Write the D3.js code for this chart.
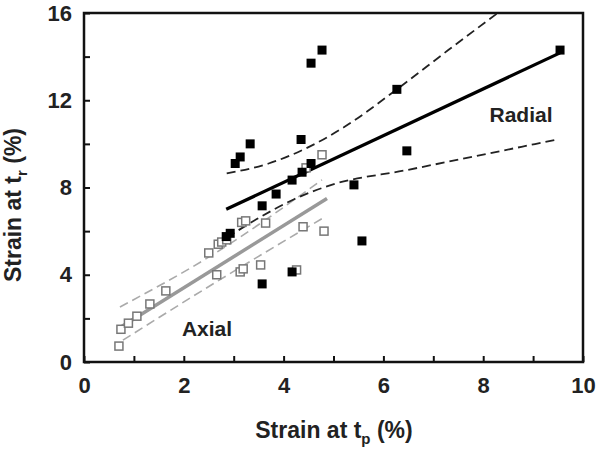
<!DOCTYPE html>
<html>
<head>
  <meta charset="utf-8">
  <title>strain scatter</title>
  <style>
    * { padding: 0; margin: 0; }
    body { background: #fff; }
    svg text { font-family: "Liberation Sans", Arial, sans-serif; font-weight: bold; fill: #222; }
  </style>
</head>
<body>
  <svg id="svg"></svg>
  <script src="https://cdnjs.cloudflare.com/ajax/libs/d3/7.8.5/d3.min.js"></script>
  <script>
    // radial (filled squares) [strain at tp, strain at tr]
    const radialPts = [[2.85, 5.75], [2.93, 5.9], [3.03, 9.1], [3.13, 9.4], [3.33, 10.0], [3.57, 3.58], [3.57, 7.16],
      [3.85, 7.7], [4.17, 4.13], [4.17, 8.34], [4.35, 10.2], [4.37, 8.7], [4.55, 9.1], [4.55, 13.7], [4.77, 14.3],
      [5.41, 8.12], [5.57, 5.55], [6.27, 12.5], [6.47, 9.68], [9.54, 14.3]]
    // axial (open squares)
    const axialPts = [[0.70, 0.73], [0.74, 1.5], [0.89, 1.78], [1.06, 2.1], [1.32, 2.66], [1.64, 3.26], [2.5, 5.0],
      [2.66, 4.0], [2.69, 5.4], [2.76, 5.5], [2.86, 5.6], [3.13, 4.13], [3.16, 6.4], [3.19, 4.27], [3.24, 6.47],
      [3.54, 4.45], [3.64, 6.37], [4.26, 4.22], [4.39, 6.2], [4.45, 8.9], [4.77, 9.5], [4.81, 6.0]]

    const radialFit = [[2.85, 7.0], [9.54, 14.17]]
    const radialUpper = [[2.86, 8.65], [3.7, 9.1], [4.5, 9.85], [5.2, 10.75], [6.27, 12.5], [7.3, 14.3], [8.35, 16.1]]
    const radialLower = [[2.86, 5.7], [3.5, 6.6], [4.2, 7.45], [4.93, 8.1], [6.47, 8.8], [9.48, 10.2]]

    const axialFit = [[0.74, 1.6], [4.87, 7.5]]
    const axialUpper = [[0.72, 2.52], [2.6, 4.95], [4.77, 8.35]]
    const axialLower = [[0.78, 1.0], [2.6, 3.6], [4.79, 6.6]]

    const xTicks = [0, 1, 2, 3, 4, 5, 6, 7, 8, 9, 10]
    const yTicks = [0, 2, 4, 6, 8, 10, 12, 14, 16]

    const W = 601, H = 451
    const box = { left: 84, right: 583, top: 13, bottom: 362 }

    const svg = d3.select('#svg').attr('width', W).attr('height', H)

    const x = d3.scaleLinear().domain([0, 10]).range([box.left, box.right])
    const y = d3.scaleLinear().domain([0, 16]).range([box.bottom, box.top])

    svg.append('defs').append('clipPath').attr('id', 'clip')
      .append('rect').attr('x', box.left).attr('y', box.top)
      .attr('width', box.right - box.left).attr('height', box.bottom - box.top)

    const xAxis = d3.axisBottom(x).tickValues(xTicks).tickSize(-6).tickPadding(15)
      .tickFormat(d => d % 2 === 0 ? d : '')
    const yAxis = d3.axisLeft(y).tickValues(yTicks).tickSize(-6).tickPadding(12)
      .tickFormat(d => d % 4 === 0 ? d : '')

    const gx = svg.append('g').attr('transform', `translate(0,${box.bottom})`).call(xAxis)
    const gy = svg.append('g').attr('transform', `translate(${box.left},0)`).call(yAxis)
    for (const g of [gx, gy]) {
      g.select('.domain').remove()
      g.selectAll('.tick line').attr('stroke', '#111').attr('stroke-width', 2)
      g.selectAll('.tick text').style('font-size', '22px').attr('fill', '#222')
    }

    svg.append('rect')
      .attr('x', box.left).attr('y', box.top)
      .attr('width', box.right - box.left).attr('height', box.bottom - box.top)
      .attr('fill', 'none').attr('stroke', '#111').attr('stroke-width', 2.5)

    const line = d3.line().x(d => x(d[0])).y(d => y(d[1]))
    const curve = d3.line().x(d => x(d[0])).y(d => y(d[1])).curve(d3.curveMonotoneX)
    const plot = svg.append('g').attr('clip-path', 'url(#clip)')

    // axial band + fit
    plot.selectAll('.axci').data([axialUpper, axialLower]).enter().append('path')
      .attr('d', curve).attr('fill', 'none').attr('stroke', '#aaa')
      .attr('stroke-width', 1.6).attr('stroke-dasharray', '9,5')
    plot.append('path').attr('d', line(axialFit)).attr('fill', 'none')
      .attr('stroke', '#999').attr('stroke-width', 3.5)

    // radial band + fit
    plot.selectAll('.raci').data([radialUpper, radialLower]).enter().append('path')
      .attr('d', curve).attr('fill', 'none').attr('stroke', '#222')
      .attr('stroke-width', 1.8).attr('stroke-dasharray', '9,5')
    plot.append('path').attr('d', line(radialFit)).attr('fill', 'none')
      .attr('stroke', '#000').attr('stroke-width', 3.2)

    const s = 8
    svg.append('g').selectAll('rect').data(axialPts).enter().append('rect')
      .attr('x', d => x(d[0]) - s / 2).attr('y', d => y(d[1]) - s / 2)
      .attr('width', s).attr('height', s)
      .attr('fill', '#fff').attr('stroke', '#777').attr('stroke-width', 1.5)

    svg.append('g').selectAll('rect').data(radialPts).enter().append('rect')
      .attr('x', d => x(d[0]) - (s + 1) / 2).attr('y', d => y(d[1]) - (s + 1) / 2)
      .attr('width', s + 1).attr('height', s + 1).attr('fill', '#000')

    svg.append('text').attr('x', 207).attr('y', 328).attr('text-anchor', 'middle')
      .attr('dominant-baseline', 'central').style('font-size', '21px').text('Axial')
    svg.append('text').attr('x', 521).attr('y', 114).attr('text-anchor', 'middle')
      .attr('dominant-baseline', 'central').style('font-size', '21px').text('Radial')

    // axis titles with subscripts
    const xt = svg.append('text').attr('x', 334).attr('y', 438).attr('text-anchor', 'middle')
      .style('font-size', '23px')
    xt.append('tspan').text('Strain at t')
    xt.append('tspan').attr('dy', 6).style('font-size', '15px').text('p')
    xt.append('tspan').attr('dy', -6).text(' (%)')

    const yt = svg.append('text').attr('transform', 'translate(21,205) rotate(-90)')
      .attr('text-anchor', 'middle').style('font-size', '23px')
    yt.append('tspan').text('Strain at t')
    yt.append('tspan').attr('dy', 6).style('font-size', '15px').text('r')
    yt.append('tspan').attr('dy', -6).text(' (%)')
  </script>
</body>
</html>
